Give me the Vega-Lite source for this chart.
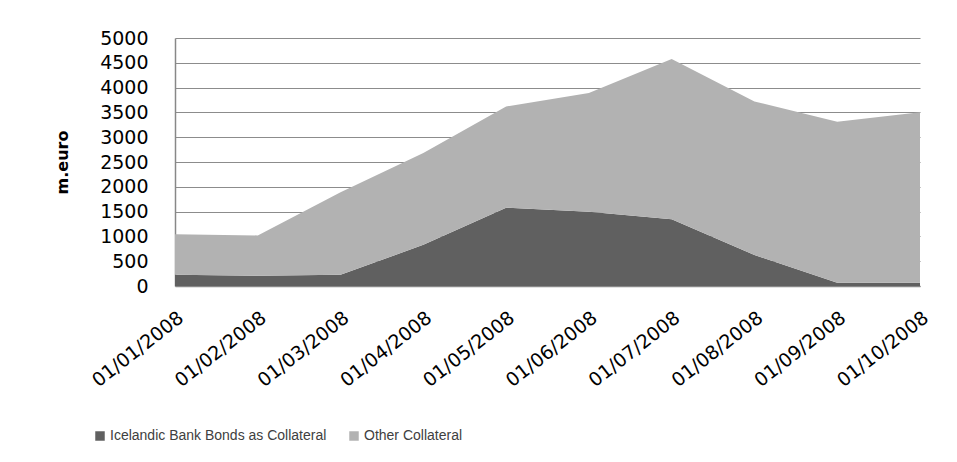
{
  "$schema": "https://vega.github.io/schema/vega-lite/v6.json",
  "autosize": {"type": "none"},
  "width": 745,
  "height": 248,
  "padding": {"left": 175, "top": 38, "right": 37, "bottom": 176},
  "background": "white",
  "data": {
    "values": [
      {"date": "01/01/2008", "series": "Icelandic Bank Bonds as Collateral", "value": 225},
      {"date": "01/02/2008", "series": "Icelandic Bank Bonds as Collateral", "value": 205},
      {"date": "01/03/2008", "series": "Icelandic Bank Bonds as Collateral", "value": 225},
      {"date": "01/04/2008", "series": "Icelandic Bank Bonds as Collateral", "value": 830},
      {"date": "01/05/2008", "series": "Icelandic Bank Bonds as Collateral", "value": 1580},
      {"date": "01/06/2008", "series": "Icelandic Bank Bonds as Collateral", "value": 1495},
      {"date": "01/07/2008", "series": "Icelandic Bank Bonds as Collateral", "value": 1345},
      {"date": "01/08/2008", "series": "Icelandic Bank Bonds as Collateral", "value": 625},
      {"date": "01/09/2008", "series": "Icelandic Bank Bonds as Collateral", "value": 65},
      {"date": "01/10/2008", "series": "Icelandic Bank Bonds as Collateral", "value": 65},
      {"date": "01/01/2008", "series": "Other Collateral", "value": 820},
      {"date": "01/02/2008", "series": "Other Collateral", "value": 815},
      {"date": "01/03/2008", "series": "Other Collateral", "value": 1665},
      {"date": "01/04/2008", "series": "Other Collateral", "value": 1850},
      {"date": "01/05/2008", "series": "Other Collateral", "value": 2040},
      {"date": "01/06/2008", "series": "Other Collateral", "value": 2395},
      {"date": "01/07/2008", "series": "Other Collateral", "value": 3230},
      {"date": "01/08/2008", "series": "Other Collateral", "value": 3095},
      {"date": "01/09/2008", "series": "Other Collateral", "value": 3245},
      {"date": "01/10/2008", "series": "Other Collateral", "value": 3440}
    ]
  },
  "mark": {"type": "area", "interpolate": "linear"},
  "encoding": {
    "x": {
      "field": "date",
      "type": "ordinal",
      "sort": null,
      "scale": {"type": "point", "padding": 0},
      "axis": {
        "title": null,
        "labelAngle": -38,
        "labelAlign": "right",
        "labelBaseline": "top",
        "labelPadding": 22,
        "labelFont": "DejaVu Sans",
        "labelFontSize": 19,
        "labelColor": "#000000",
        "labelLimit": 0,
        "ticks": false,
        "domainColor": "#888888",
        "domainWidth": 1.5,
        "grid": false
      }
    },
    "y": {
      "field": "value",
      "type": "quantitative",
      "stack": "zero",
      "scale": {"domain": [0, 5000], "nice": false},
      "axis": {
        "title": "m.euro",
        "titleFont": "DejaVu Sans",
        "titleFontSize": 16,
        "titleFontWeight": "bold",
        "titleColor": "#000000",
        "titleAngle": -90,
        "titleX": -113,
        "titleY": 124,
        "titleAlign": "center",
        "titleBaseline": "middle",
        "values": [0, 500, 1000, 1500, 2000, 2500, 3000, 3500, 4000, 4500, 5000],
        "format": "d",
        "labelFont": "DejaVu Sans",
        "labelFontSize": 19,
        "labelColor": "#000000",
        "labelPadding": 27,
        "labelBaseline": "middle",
        "ticks": false,
        "domainColor": "#888888",
        "domainWidth": 1.5,
        "grid": true,
        "gridColor": "#8c8c8c",
        "gridWidth": 1.2
      }
    },
    "color": {
      "field": "series",
      "type": "nominal",
      "scale": {
        "domain": ["Icelandic Bank Bonds as Collateral", "Other Collateral"],
        "range": ["#606060", "#b2b2b2"]
      },
      "legend": {
        "title": null,
        "orient": "none",
        "direction": "horizontal",
        "legendX": -82,
        "legendY": 391,
        "symbolType": "square",
        "symbolSize": 90,
        "symbolStrokeWidth": 0,
        "symbolOpacity": 1,
        "labelFont": "Liberation Sans",
        "labelFontSize": 14,
        "labelColor": "#404040",
        "labelLimit": 0,
        "labelOffset": 3,
        "columnPadding": 20
      }
    },
    "order": {"field": "series", "sort": "ascending"}
  },
  "config": {
    "view": {"stroke": null},
    "axis": {"gridDash": []}
  }
}
